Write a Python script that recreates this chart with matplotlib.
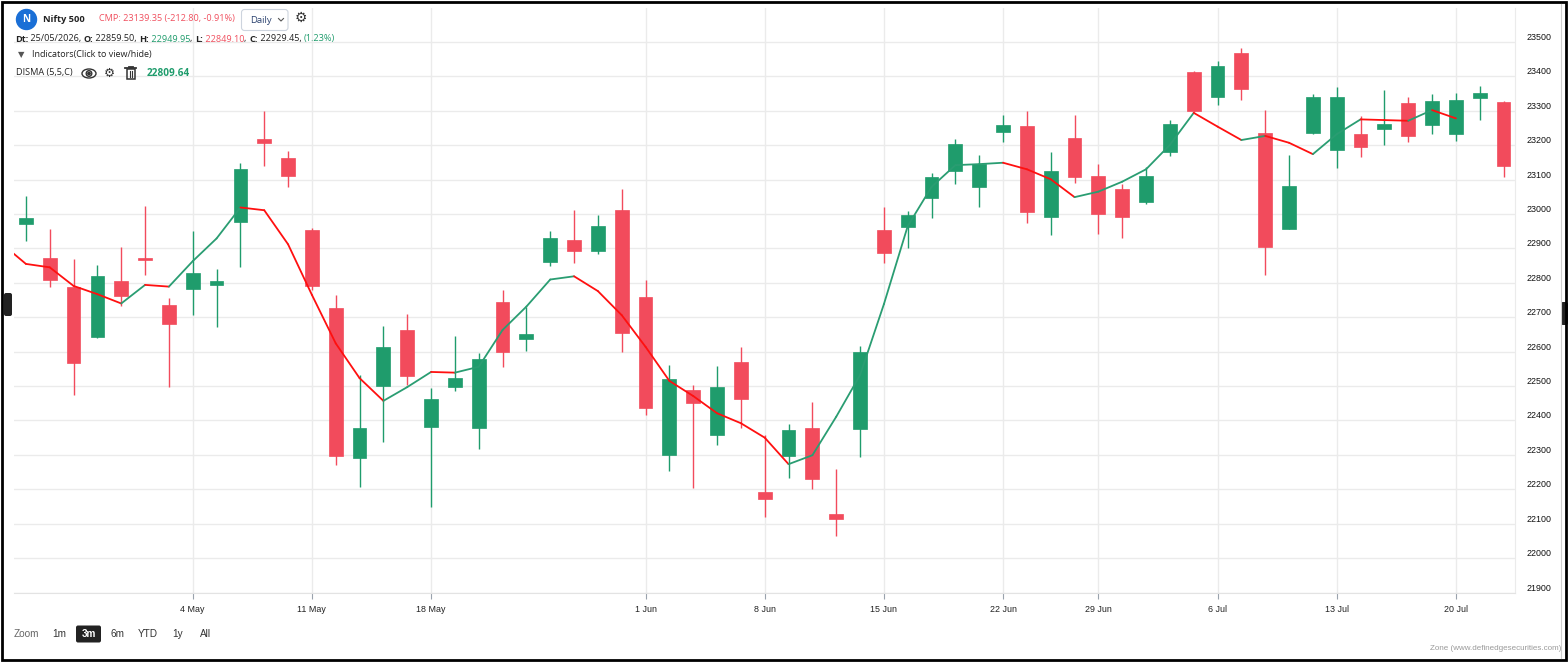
import matplotlib
matplotlib.use("Agg")
import matplotlib.pyplot as plt
import matplotlib.patches as mpatches
import matplotlib.transforms as mtransforms
import numpy as np

#%% data
opens = [22972, 22871, 22787, 22643, 22805, 22872, 22735, 22781, 22795, 22976,
         23217, 23163, 22953, 22726, 22290, 22501, 22663, 22382, 22498, 22379,
         22743, 22638, 22859.50, 22924, 22893, 23011, 22758, 22300, 22488, 22359,
         22569, 22191, 22297, 22377, 22128, 22374, 22953, 22961, 23046, 23126,
         23079, 23237, 23256, 22991, 23220, 23110, 23072, 23034, 23179, 23412,
         23340, 23468, 23234, 22956, 23234, 23185, 23232, 23246, 23322, 23260,
         23233, 23337, 23325]
highs = [23052, 22956, 22869, 22852, 22904, 23023, 22755, 22951, 22839, 23148,
         23299, 23183, 22958, 22765, 22532, 22675, 22709, 22493, 22645, 22596,
         22779, 22731, 22949.95, 23012, 22997, 23073, 22808, 22561, 22503, 22558,
         22614, 22358, 22390, 22454, 22259, 22616, 23019, 23009, 23120, 23218,
         23171, 23288, 23300, 23180, 23288, 23145, 23087, 23136, 23273, 23415,
         23445, 23483, 23302, 23171, 23349, 23369, 23285, 23359, 23339, 23349,
         23352, 23372, 23328]
lows = [22922, 22788, 22474, 22641, 22733, 22823, 22498, 22707, 22672, 22847,
        23139, 23079, 22779, 22271, 22207, 22338, 22503, 22149, 22487, 22318,
        22556, 22603, 22849.10, 22858, 22884, 22600, 22416, 22254, 22205, 22329,
        22379, 22120, 22234, 22201, 22065, 22295, 22859, 22902, 22989, 23088,
        23021, 23210, 22975, 22940, 23091, 22943, 22931, 23030, 23169, 23296,
        23318, 23330, 22823, 22955, 23232, 23135, 23167, 23200, 23210, 23233,
        23213, 23273, 23109]
closes = [22988, 22809, 22568, 22819, 22763, 22867, 22681, 22828, 22805, 23131,
          23207, 23111, 22792, 22298, 22377, 22613, 22529, 22461, 22522, 22578,
          22600, 22650, 22929.45, 22893, 22964, 22655, 22437, 22520, 22452, 22496,
          22463, 22173, 22371, 22231, 22114, 22598, 22888, 22996, 23107, 23203,
          23145, 23259, 23007, 23125, 23108, 22999, 22992, 23110, 23261, 23298,
          23430, 23364, 22905, 23081, 23339, 23339, 23194, 23261, 23227, 23327,
          23330, 23352, 23139.35]

# DISMA (5,5,C) line, one point per candle slot (starts one slot left of the first candle)
disma_idx = list(range(-1, 61))
disma = [22913, 22855, 22845, 22791, 22767, 22740, 22794, 22789, 22863, 22929,
         23019, 23011, 22912, 22765, 22624, 22523, 22457, 22497, 22541, 22539,
         22556, 22663, 22731, 22809.64, 22819, 22776, 22706, 22614, 22515, 22471,
         22421, 22392, 22350, 22273, 22299, 22411, 22532, 22738, 22965, 23079,
         23142, 23145, 23149, 23130, 23101, 23049, 23065, 23094, 23130, 23201,
         23294, 23254, 23215, 23227, 23207, 23174, 23232, 23275, 23273, 23271,
         23302, 23278]

tick_idx = [7, 12, 17, 26, 31, 36, 41, 45, 50, 55, 60]
tick_labels = ["4 May", "11 May", "18 May", "1 Jun", "8 Jun", "15 Jun",
               "22 Jun", "29 Jun", "6 Jul", "13 Jul", "20 Jul"]
y_ticks = [21900, 22000, 22100, 22200, 22300, 22400, 22500, 22600, 22700,
           22800, 22900, 23000, 23100, 23200, 23300, 23400, 23500]

#%% style
GREEN = "#1f9c6c"
RED = "#f24b5c"
LINE_GREEN = "#2a9d72"
LINE_RED = "#ff1010"
GRID = "#ebebeb"
AXFONT = ["Liberation Sans", "DejaVu Sans"]
HDFONT = ["Open Sans", "DejaVu Sans"]
plt.rcParams["font.family"] = AXFONT

W, H = 1568, 663
fig = plt.figure(figsize=(W / 100, H / 100), dpi=100)
fig.patch.set_facecolor("white")

# plot area in pixels: x 14..1515, y 8..593
ax = fig.add_axes([14 / W, 1 - 593 / H, (1515 - 14) / W, (593 - 8) / H])

x = np.arange(len(opens))
o = np.array(opens)
c = np.array(closes)
cols = [GREEN if cc >= oo else RED for oo, cc in zip(o, c)]

ax.vlines(x, lows, highs, colors=cols, lw=1.0, zorder=2)
bottoms = np.minimum(o, c)
heights = np.maximum(np.abs(c - o), 4)
ax.bar(x, heights, width=0.58, bottom=bottoms, color=cols, edgecolor=cols,
       lw=0.5, zorder=3)

for i in range(len(disma) - 1):
    col = LINE_GREEN if disma[i + 1] >= disma[i] else LINE_RED
    ax.plot(disma_idx[i:i + 2], disma[i:i + 2], color=col, lw=1.3, zorder=4,
            solid_capstyle="round")

ax.set_xlim(-0.5, 62.48)
ax.set_ylim(21898.6, 23598.7)

ax.set_yticks(y_ticks)
ax.set_xticks(tick_idx, tick_labels)
ax.grid(True, color=GRID, lw=1)
ax.set_axisbelow(True)
ax.tick_params(axis="y", length=0, labelleft=False)
ax.tick_params(axis="x", length=4.5, width=0.8, color="#9aa3ad", pad=4,
               labelsize=6.4, labelcolor="#222222")
for s in ["top", "left"]:
    ax.spines[s].set_visible(False)
ax.spines["right"].set_color(GRID)
ax.spines["bottom"].set_color("#e3e3e3")

# y labels on the right, a bit above the grid lines
ylab_tr = ax.get_yaxis_transform() + mtransforms.ScaledTranslation(0, 4.5 / 100, fig.dpi_scale_trans)
for yt in y_ticks:
    ax.text((1527 - 14) / (1515 - 14), yt, str(yt), transform=ylab_tr,
            ha="left", va="center", fontsize=6.4, color="#111111", clip_on=False)

#%% overlay in pixel coords for header, buttons, frame
ov = fig.add_axes([0, 0, 1, 1], zorder=5)
ov.set_xlim(0, W)
ov.set_ylim(H, 0)
ov.axis("off")
ov.patch.set_visible(False)
renderer = fig.canvas.get_renderer()


def runs(x0, y0, parts, size, family=HDFONT):
    xx = x0
    for txt, col, wt in parts:
        t = ov.text(xx, y0, txt, color=col, fontsize=size, fontweight=wt,
                    ha="left", va="center", family=family)
        bb = t.get_window_extent(renderer)
        xx = bb.x1
    return xx


DARK = "#222222"
HRED = "#f0505f"
HGREEN = "#1f9c6c"

# N badge
ov.add_patch(mpatches.Circle((26.5, 19.5), 10, color="#1a6fd6"))
ov.text(26.5, 19.5, "N", color="white", fontsize=7.2, fontweight="bold",
        ha="center", va="center", family=HDFONT)
runs(43, 19, [("Nifty 500", DARK, "bold")], 6.7)
runs(99, 19, [("CMP: 23139.35 (-212.80, -0.91%)", HRED, "normal")], 6.6)

# Daily dropdown
ov.add_patch(mpatches.FancyBboxPatch((241.5, 9.5), 46.5, 21,
                                     boxstyle="round,pad=0,rounding_size=3",
                                     fc="white", ec="#cdd4de", lw=0.8))
ov.text(250, 20.5, "Daily", color="#2c4370", fontsize=6.8, ha="left",
        va="center", family=HDFONT)
ov.plot([278.5, 281, 283.5], [18.5, 21, 18.5], color="#555", lw=0.8)
ov.text(301, 18.3, "\u2699", color="#333", fontsize=10, fontweight="bold",
        ha="center", va="center", family="DejaVu Sans")

# OHLC line
runs(15, 39, [("Dt:", DARK, "bold"), (" 25/05/2026, ", DARK, "normal"),
              ("O:", DARK, "bold"), (" 22859.50, ", DARK, "normal"),
              ("H:", DARK, "bold"), (" 22949.95", HGREEN, "normal"),
              (", ", DARK, "normal"),
              ("L:", DARK, "bold"), (" 22849.10", HRED, "normal"),
              (", ", DARK, "normal"),
              ("C:", DARK, "bold"), (" 22929.45, ", DARK, "normal"),
              ("(1.23%)", HGREEN, "normal")], 6.55)

ov.text(21.5, 55, "\u25BC", color="#555", fontsize=6, ha="center", va="center",
        family="DejaVu Sans")
runs(32, 55, [("Indicators(Click to view/hide)", DARK, "normal")], 6.5)

runs(16.5, 73, [("DISMA (5,5,C)", DARK, "normal")], 6.55)
# eye
ov.add_patch(mpatches.Ellipse((89, 73.5), 14, 9, fill=False, ec="#333", lw=1.0))
ov.add_patch(mpatches.Circle((89, 73.5), 2.8, fill=False, ec="#333", lw=1.0))
ov.add_patch(mpatches.Circle((89, 73.5), 1.2, color="#333"))
# gear
ov.text(109.5, 73, "\u2699", color="#333", fontsize=9, fontweight="bold",
        ha="center", va="center", family="DejaVu Sans")
# trash can
ov.plot([125.5, 136.5], [68, 68], color="#333", lw=1.3)
ov.plot([129, 133], [66.5, 66.5], color="#333", lw=1.3)
ov.add_patch(mpatches.Rectangle((127, 69), 8, 10, fill=False, ec="#333", lw=1.1))
for xv in (129.7, 132.3):
    ov.plot([xv, xv], [71, 77], color="#333", lw=0.8)
runs(147, 73, [("22809.64", HGREEN, "bold")], 7.2)

# range selector
ov.text(14, 634, "Zoom", color="#666666", fontsize=7.2, ha="left", va="center")
for lab, xl in [("1m", 52), ("6m", 111), ("YTD", 138), ("1y", 172), ("All", 200)]:
    ov.text(xl, 634, lab, color="#333333", fontsize=7.2, ha="left", va="center")
ov.add_patch(mpatches.FancyBboxPatch((76, 625.5), 25, 17,
                                     boxstyle="round,pad=0,rounding_size=2",
                                     fc="#222222", ec="none"))
ov.text(88.5, 634, "3m", color="white", fontsize=7.2, fontweight="bold",
        ha="center", va="center")

ov.text(1561, 648, "Zone (www.definedgesecurities.com)", color="#9a9a9a",
        fontsize=5.8, ha="right", va="center")

# side handles, container edge and outer frame
ov.plot([1561.5, 1561.5], [4, 658], color="#cfcfcf", lw=0.8)
ov.add_patch(mpatches.FancyBboxPatch((4, 293), 8, 23,
                                     boxstyle="round,pad=0,rounding_size=2",
                                     fc="#222222", ec="none"))
ov.add_patch(mpatches.FancyBboxPatch((1561, 302), 7, 23,
                                     boxstyle="round,pad=0,rounding_size=2",
                                     fc="#222222", ec="none"))
ov.add_patch(mpatches.Rectangle((2, 2), 1564, 658, fill=False, ec="black", lw=2))

fig.savefig("out.png", dpi=100, facecolor="white")
